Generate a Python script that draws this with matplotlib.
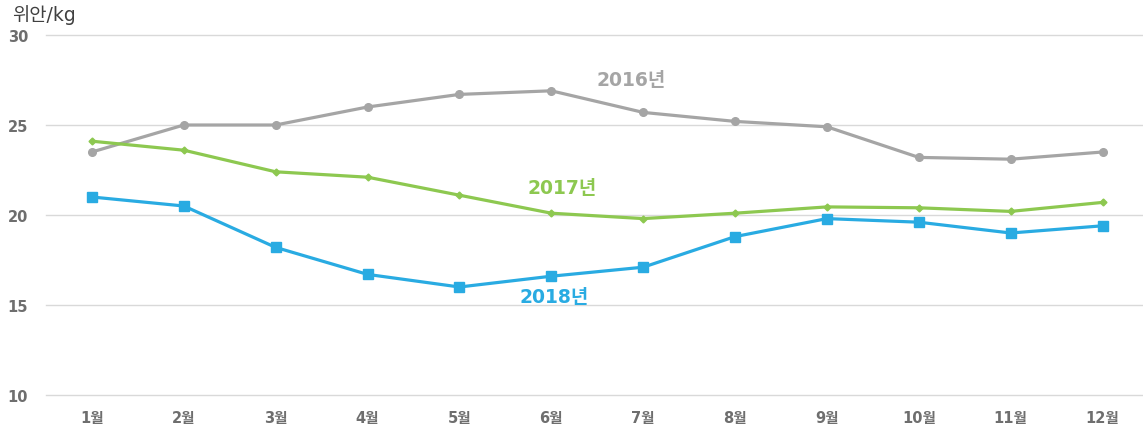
import numpy as np
import matplotlib.pyplot as plt

plt.rcParams['font.family'] = ['DejaVu Sans', 'Noto Sans CJK KR']

months = ['1월', '2월', '3월', '4월', '5월', '6월', '7월', '8월', '9월', '10월', '11월', '12월']
y2016 = [23.5, 25.0, 25.0, 26.0, 26.7, 26.9, 25.7, 25.2, 24.9, 23.2, 23.1, 23.5]
y2017 = [24.1, 23.6, 22.4, 22.1, 21.1, 20.1, 19.8, 20.1, 20.45, 20.4, 20.2, 20.7]
y2018 = [21.0, 20.5, 18.2, 16.7, 16.0, 16.6, 17.1, 18.8, 19.8, 19.6, 19.0, 19.4]

c16 = '#A5A5A5'
c17 = '#8DC850'
c18 = '#29ABE2'

fig = plt.figure(figsize=(11.43, 4.27), dpi=100)
ax = fig.add_axes([46/1143, 1 - 396/427, 1 - 46/1143, 360/427])

x = np.arange(1, 13)
ax.plot(x, y2016, color=c16, lw=2.3, marker='o', ms=5.5, zorder=3)
ax.plot(x, y2017, color=c17, lw=2.3, marker='D', ms=3.5, zorder=3)
ax.plot(x, y2018, color=c18, lw=2.3, marker='s', ms=6.5, zorder=3)

ax.set_xlim(0.5, 12.44)
ax.set_ylim(10, 30)
ax.set_yticks([10, 15, 20, 25, 30])
ax.set_xticks(x)
ax.set_xticklabels(months)
ax.grid(axis='y', color='#D9D9D9', lw=1)
for g in ax.get_ygridlines():
    g.set_clip_on(False)
ax.set_axisbelow(True)
for s in ax.spines.values():
    s.set_visible(False)
ax.tick_params(length=0, colors='#6E6E6E', labelsize=10.5)
ax.tick_params(axis='y', pad=13)
ax.tick_params(axis='x', pad=11)
for t in ax.get_xticklabels() + ax.get_yticklabels():
    t.set_fontweight('bold')

fig.text(12/1143, 1 - 15/427, '위안/kg', fontsize=13.5, color='#404040', va='center', ha='left')

ax.text(6.87, 27.55, '2016년', color=c16, fontsize=13.5, fontweight='bold', ha='center', va='center')
ax.text(6.12, 21.5, '2017년', color=c17, fontsize=13.5, fontweight='bold', ha='center', va='center')
ax.text(6.03, 15.45, '2018년', color=c18, fontsize=13.5, fontweight='bold', ha='center', va='center')

fig.savefig('out.png', dpi=100)
